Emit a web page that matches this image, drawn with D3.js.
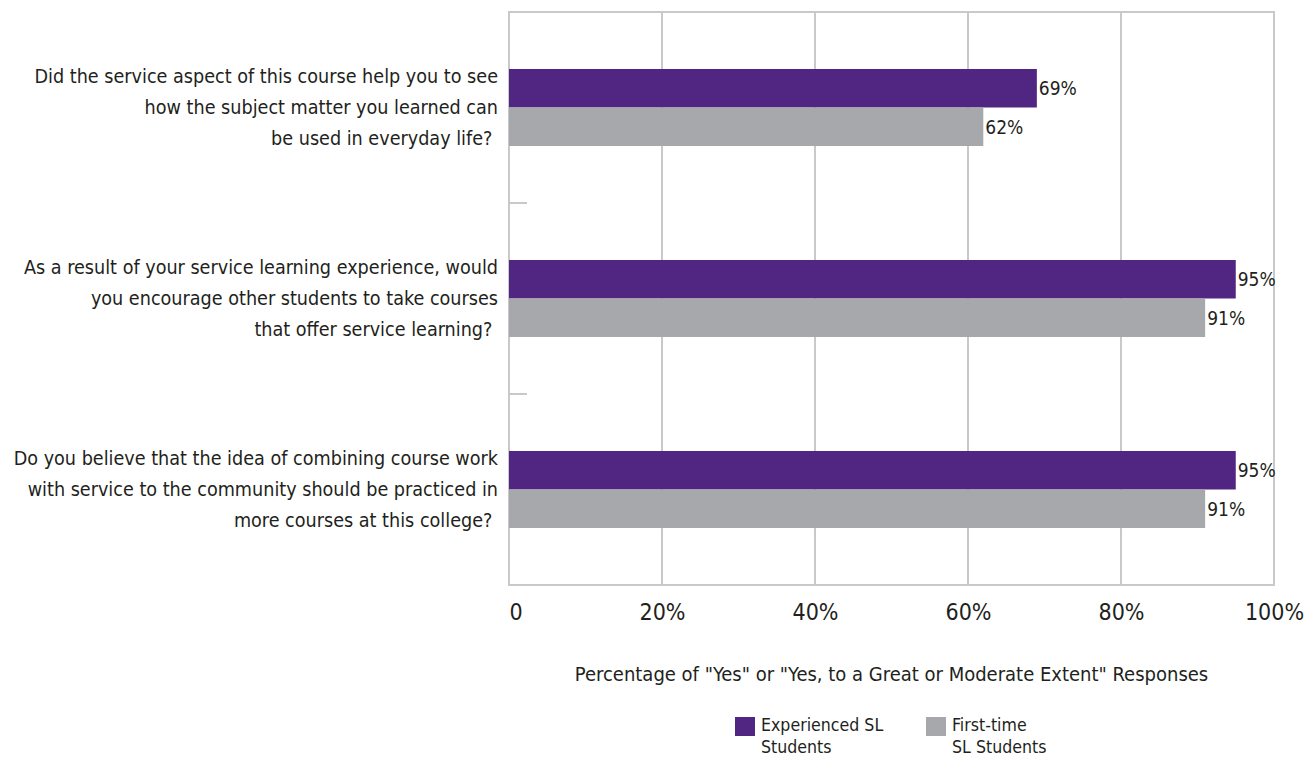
<!DOCTYPE html>
<html>
<head>
<meta charset="utf-8">
<script src="https://cdn.jsdelivr.net/npm/d3@7"></script>
<style>
  html, body { margin: 0; padding: 0; background: #ffffff; }
  svg text { font-family: "Liberation Sans Narrow", "Arial Narrow", "DejaVu Sans Condensed", sans-serif; fill: #231f20; }
</style>
</head>
<body>
<svg id="chart" width="1304" height="761"></svg>
<script>
const categories = [
  ["Did the service aspect of this course help you to see", "how the subject matter you learned can", "be used in everyday life?\u00a0"],
  ["As a result of your service learning experience, would", "you encourage other students to take courses", "that offer service learning?\u00a0"],
  ["Do you believe that the idea of combining course work", "with service to the community should be practiced in", "more courses at this college?\u00a0"]
];
const seriesNames = ["Experienced SL Students", "First-time SL Students"];
const legendLines = [["Experienced SL", "Students"], ["First-time", "SL Students"]];
const experienced = [69, 95, 95];
const firstTime = [62, 91, 91];
const tickValues = [0, 20, 40, 60, 80, 100];
const tickLabels = ["0", "20%", "40%", "60%", "80%", "100%"];
const axisTitle = "Percentage of \"Yes\" or \"Yes, to a Great or Moderate Extent\" Responses";

const colors = ["#512682", "#a7a8ab"];
const gridColor = "#c9c9cb";

const svg = d3.select("#chart");
const pLeft = 509, pRight = 1274, pTop = 12, pBottom = 585;

const x = d3.scaleLinear().domain([0, 100]).range([pLeft, pRight]);
const y = d3.scaleBand().domain(d3.range(categories.length)).range([pTop, pBottom]).padding(0);
const ySub = d3.scaleBand().domain(seriesNames).range([0, y.bandwidth()]).paddingInner(0).paddingOuter(1.48);

const values = [experienced, firstTime];

// grid lines
svg.append("g").selectAll("line").data(tickValues).join("line")
  .attr("x1", d => x(d)).attr("x2", d => x(d))
  .attr("y1", pTop).attr("y2", pBottom)
  .attr("stroke", gridColor).attr("stroke-width", 2);
[pTop, pBottom].forEach(yy => {
  svg.append("line").attr("x1", pLeft - 1).attr("x2", pRight + 1).attr("y1", yy).attr("y2", yy)
    .attr("stroke", gridColor).attr("stroke-width", 2);
});
const boundaries = d3.range(categories.length + 1).map(i => i < categories.length ? y(i) : pBottom);
svg.append("g").selectAll("line").data(boundaries).join("line")
  .attr("x1", pLeft).attr("x2", pLeft + 18)
  .attr("y1", d => d).attr("y2", d => d)
  .attr("stroke", gridColor).attr("stroke-width", 2);

// bars
seriesNames.forEach((s, si) => {
  const g = svg.append("g");
  g.selectAll("rect").data(values[si]).join("rect")
    .attr("x", x(0))
    .attr("y", (d, i) => y(i) + ySub(s))
    .attr("width", d => x(d) - x(0))
    .attr("height", ySub.bandwidth())
    .attr("fill", colors[si]);
  g.selectAll("text").data(values[si]).join("text")
    .attr("x", d => x(d) + 2)
    .attr("y", (d, i) => y(i) + ySub(s) + ySub.bandwidth() / 2)
    .attr("dominant-baseline", "central")
    .attr("font-size", 19)
    .text(d => d + "%");
});

// category labels
const cat = svg.append("g").selectAll("text").data(categories).join("text")
  .attr("text-anchor", "end")
  .attr("font-size", 19.6);
cat.each(function(d, i) {
  const cy = y(i) + y.bandwidth() / 2;
  d3.select(this).selectAll("tspan").data(d).join("tspan")
    .attr("x", 498)
    .attr("y", (t, j) => cy + (j - 1) * 31)
    .attr("dominant-baseline", "central")
    .text(t => t);
});

// x axis tick labels
const axis = d3.axisBottom(x).tickValues(tickValues).tickSize(0).tickFormat((d, i) => tickLabels[i]);
const ax = svg.append("g").attr("transform", `translate(0,${pBottom})`).call(axis);
ax.attr("font-family", null).attr("font-size", null);
ax.select(".domain").remove();
ax.selectAll("text").attr("font-size", 23).attr("dy", null).attr("y", 27).attr("dominant-baseline", "central").attr("fill", null);
ax.selectAll(".tick").filter(d => d === 0).select("text").attr("text-anchor", "start").attr("x", 0);

// axis title
svg.append("text").attr("x", (pLeft + pRight) / 2).attr("y", 674)
  .attr("text-anchor", "middle").attr("dominant-baseline", "central").attr("font-size", 20)
  .text(axisTitle);

// legend
const legendX = [735, 926];
seriesNames.forEach((s, si) => {
  const g = svg.append("g").attr("transform", `translate(${legendX[si]},717)`);
  g.append("rect").attr("width", 20).attr("height", 19).attr("fill", colors[si]);
  g.selectAll("text").data(legendLines[si]).join("text")
    .attr("x", 26).attr("y", (d, j) => 8 + j * 22)
    .attr("dominant-baseline", "central").attr("font-size", 17.6)
    .text(d => d);
});
</script>
</body>
</html>
